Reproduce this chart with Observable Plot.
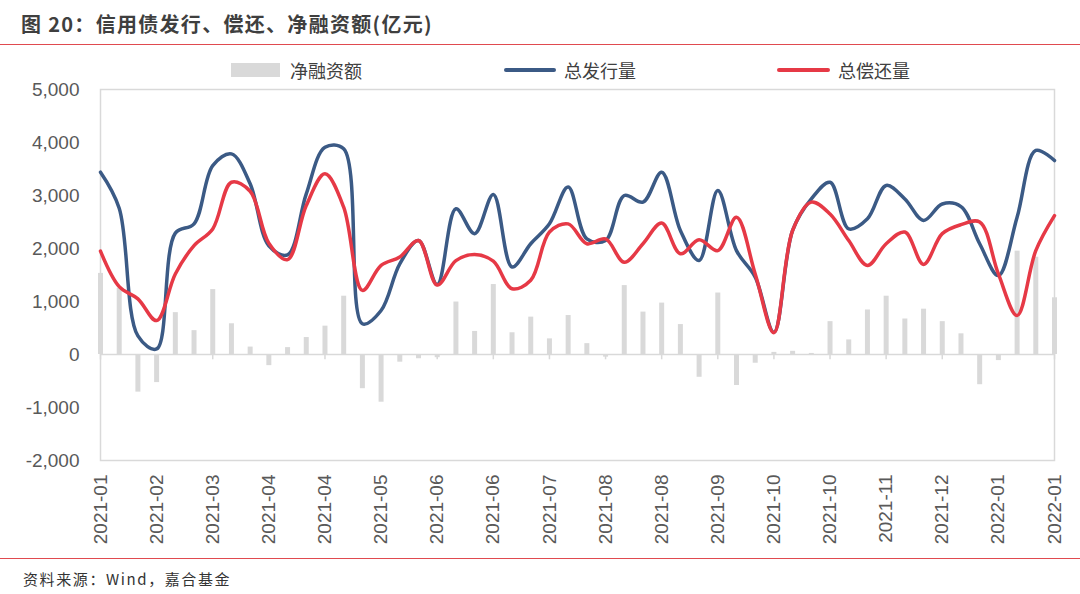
<!DOCTYPE html>
<html><head><meta charset="utf-8">
<script src="https://cdn.jsdelivr.net/npm/d3@7"></script>
<script src="https://cdn.jsdelivr.net/npm/@observablehq/plot@0.6"></script>
<style>
body{margin:0;background:#fff;width:1080px;height:594px;position:relative;overflow:hidden;font-family:"Liberation Sans",Arial,sans-serif;}
#title{position:absolute;left:21px;top:12px;font-family:"Noto Sans CJK SC";font-weight:bold;font-size:20px;letter-spacing:1.3px;line-height:24px;color:#3f3f3f;white-space:nowrap;z-index:2;}
.hr{position:absolute;left:0;width:1080px;height:0;border-top:1.5px solid #e04a4f;z-index:2;}
.lg{position:absolute;font-family:"Noto Sans CJK SC";font-size:18px;line-height:22px;color:#404040;top:59px;white-space:nowrap;z-index:2;}
.sw{position:absolute;z-index:2;}
#chart{position:absolute;left:0;top:50px;z-index:1;}
#caption{position:absolute;left:23px;top:569px;font-family:"Noto Sans CJK SC";font-size:15px;letter-spacing:1.6px;line-height:20px;color:#333;white-space:nowrap;z-index:2;}
</style></head>
<body>
<div id="chart"></div>
<div id="title">图 20：信用债发行、偿还、净融资额(亿元)</div>
<div class="hr" style="top:44px"></div>
<div class="sw" style="left:231px;top:63px;width:49px;height:14px;background:#d9d9d9"></div>
<div class="lg" style="left:290px">净融资额</div>
<div class="sw" style="left:504px;top:68px;width:52px;height:4px;background:#3b5a85;border-radius:2px"></div>
<div class="lg" style="left:564px">总发行量</div>
<div class="sw" style="left:777px;top:68px;width:53px;height:4px;background:#e63946;border-radius:2px"></div>
<div class="lg" style="left:838px">总偿还量</div>
<div class="hr" style="top:558px"></div>
<div id="caption">资料来源：Wind，嘉合基金</div>
<script>
const xLabels = ["2021-01","2021-02","2021-03","2021-04","2021-04","2021-05","2021-06","2021-06","2021-07","2021-08","2021-08","2021-09","2021-10","2021-10","2021-11","2021-12","2022-01","2022-01"];
const yTicks = [-2000,-1000,0,1000,2000,3000,4000,5000];
const netFinancing = [1530,1250,-710,-530,790,450,1225,580,140,-210,130,320,535,1100,-645,-900,-145,-80,-60,990,435,1320,410,705,295,735,205,-50,1300,800,970,565,-430,1160,-585,-165,40,60,20,620,275,840,1100,670,855,620,390,-570,-115,1950,1835,1070];
const totalIssue = [3440,2760,350,105,2290,2465,3565,3785,3220,2050,1880,3030,3910,3880,580,830,1710,2150,1320,2750,2280,3020,1650,2090,2465,3160,2180,2150,3000,2875,3440,2340,1775,3095,1960,1460,420,2340,2935,3250,2370,2560,3190,2935,2530,2840,2790,2090,1490,2590,3850,3660];
const totalRepay = [1950,1280,1050,640,1520,2055,2370,3250,3080,2100,1790,2810,3410,2780,1210,1680,1840,2150,1310,1770,1885,1760,1240,1400,2310,2465,2090,2180,1740,2090,2480,1900,2165,1960,2590,1520,410,2340,2875,2650,2150,1680,2090,2310,1700,2280,2450,2500,1520,735,1960,2620];

const data = netFinancing.map((v, i) => ({i, net: v, issue: totalIssue[i], repay: totalRepay[i]}));
const tickIdx = xLabels.map((_, k) => k * 3);
const fmt = d => d3.format(",")(d).replace("\u2212", "-");

const chart = Plot.plot({
  width: 1080,
  height: 510,
  marginTop: 39,
  marginBottom: 100,
  marginLeft: 100,
  marginRight: 26,
  style: {fontFamily: "'Liberation Sans', Arial, sans-serif", fontSize: "19px", color: "#595959", background: "transparent"},
  x: {domain: [0, netFinancing.length - 1]},
  y: {domain: [-2000, 5000]},
  marks: [
    Plot.frame({stroke: "#d9d9d9", strokeWidth: 1.5}),
    Plot.ruleY([0], {stroke: "#d9d9d9", strokeWidth: 1.5}),
    Plot.ruleX(tickIdx, {y1: 0, y2: -100, stroke: "#d9d9d9", strokeWidth: 1.5}),
    Plot.ruleX(data, {x: "i", y1: 0, y2: "net", stroke: "#d9d9d9", strokeWidth: 5}),
    Plot.line(data, {x: "i", y: "issue", stroke: "#3b5a85", strokeWidth: 3.5, curve: "catmull-rom"}),
    Plot.line(data, {x: "i", y: "repay", stroke: "#e63946", strokeWidth: 3.5, curve: "catmull-rom"}),
    Plot.axisY({ticks: yTicks, tickFormat: fmt, tickSize: 0, tickPadding: 21, fontSize: 19, label: null}),
    Plot.axisX({ticks: tickIdx, tickFormat: d => xLabels[d / 3], tickRotate: -90, tickSize: 0, tickPadding: 14, fontSize: 19, label: null})
  ]
});
document.getElementById("chart").appendChild(chart);
</script>
</body></html>
